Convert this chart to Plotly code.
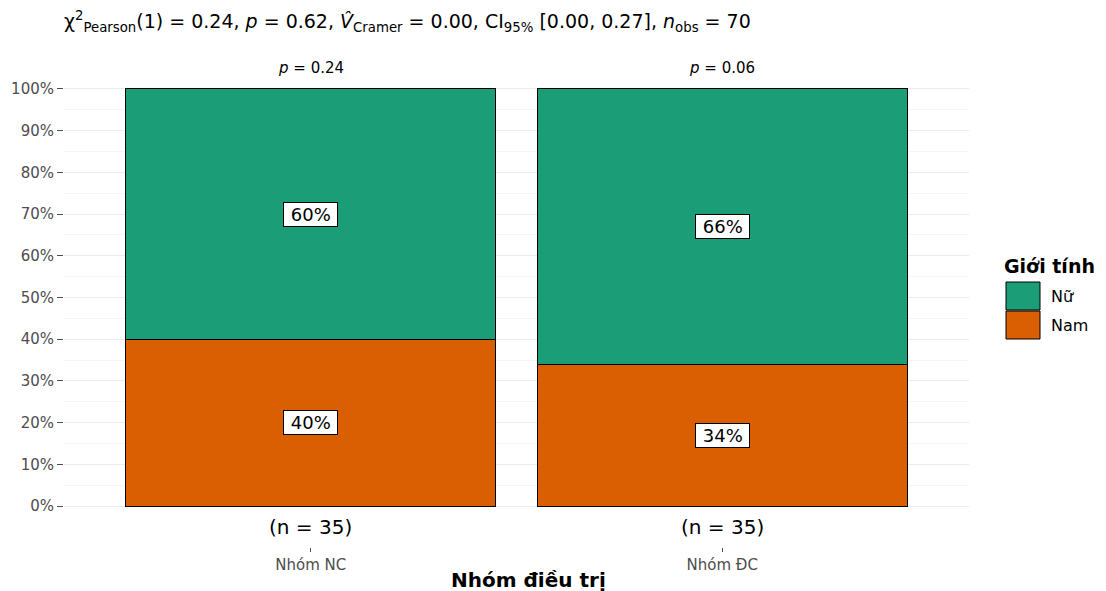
import plotly.graph_objects as go

# Data
groups = ["Nhóm NC", "Nhóm ĐC"]
sexes = ["Nam", "Nữ"]
pct_nam = [40, 34]
pct_nu = [60, 66]
n_group = [35, 35]
p_group = ["0.24", "0.06"]
colors = {"Nữ": "#1B9E77", "Nam": "#D95F02"}
ytick_vals = [0, 10, 20, 30, 40, 50, 60, 70, 80, 90, 100]
ytick_text = [f"{v}%" for v in ytick_vals]

FONT = "DejaVu Sans, Verdana, sans-serif"
W, H = 1106, 591
ML, MR, MT, MB = 64, 137, 48, 44
PW, PH = W - ML - MR, H - MT - MB


def px(x):
    return (x - ML) / PW


def py(y):
    return (H - MB - y) / PH


fig = go.Figure()
for sex, vals in (("Nam", pct_nam), ("Nữ", pct_nu)):
    fig.add_trace(go.Bar(
        x=groups, y=[v / 100 for v in vals], name=sex,
        marker=dict(color=colors[sex], line=dict(color="black", width=1)),
        showlegend=False, hoverinfo="skip",
    ))

annotations = []
# percentage labels centred in each segment
for i, g in enumerate(groups):
    for base, v in ((0, pct_nam[i]), (pct_nam[i], pct_nu[i])):
        annotations.append(dict(
            x=g, y=(base + v / 2) / 100, xref="x", yref="y",
            text=f"&nbsp;{v}%&nbsp;", showarrow=False,
            font=dict(family=FONT, size=18, color="black"),
            bgcolor="white", bordercolor="black", borderwidth=1, borderpad=1,
        ))
    annotations.append(dict(
        x=g, y=-0.05, xref="x", yref="y", text=f"(n = {n_group[i]})",
        showarrow=False, font=dict(family=FONT, size=20, color="black"),
    ))
    annotations.append(dict(
        x=g, y=1.05, xref="x", yref="y", text=f"<i>p</i> = {p_group[i]}",
        showarrow=False, font=dict(family=FONT, size=15, color="black"),
    ))

# subtitle with test statistics
annotations.append(dict(
    x=px(62), y=py(22), xref="paper", yref="paper", xanchor="left", yanchor="middle",
    text=("χ<sup>2</sup><sub>Pearson</sub>(1) = 0.24, <i>p</i> = 0.62, "
          "<i>V̂</i><sub>Cramer</sub> = 0.00, CI<sub>95%</sub> [0.00, 0.27], "
          "<i>n</i><sub>obs</sub> = 70"),
    showarrow=False, font=dict(family=FONT, size=19, color="black"),
))

# x axis title
annotations.append(dict(
    x=px(528), y=py(580), xref="paper", yref="paper", yanchor="middle",
    text="<b>Nhóm điều trị</b>",
    showarrow=False, font=dict(family=FONT, size=20, color="black"),
))

# legend
annotations.append(dict(
    x=px(1002), y=py(266), xref="paper", yref="paper", xanchor="left", yanchor="middle",
    text="<b>Giới tính</b>", showarrow=False,
    font=dict(family=FONT, size=19, color="black"),
))
shapes = []
for sex, (top, bot) in (("Nữ", (282, 310)), ("Nam", (311, 339))):
    shapes.append(dict(
        type="rect", xref="paper", yref="paper",
        x0=px(1006), x1=px(1040), y0=py(bot), y1=py(top),
        fillcolor=colors[sex], line=dict(color="black", width=1),
    ))
    annotations.append(dict(
        x=px(1049), y=py((top + bot) / 2), xref="paper", yref="paper",
        xanchor="left", yanchor="middle", text=sex, showarrow=False,
        font=dict(family=FONT, size=16, color="black"),
    ))

fig.update_layout(
    width=W, height=H,
    margin=dict(l=ML, r=MR, t=MT, b=MB),
    barmode="stack", bargap=0.1,
    paper_bgcolor="white", plot_bgcolor="white",
    annotations=annotations, shapes=shapes,
    font=dict(family=FONT),
)
fig.update_xaxes(
    range=[-0.6, 1.6], showgrid=False, zeroline=False, showline=False,
    ticks="outside", ticklen=4, tickcolor="#4D4D4D", tickwidth=1,
    tickfont=dict(family=FONT, size=15, color="#4D4D4D"),
)
fig.update_yaxes(
    range=[-0.098, 1.098], tickvals=[v / 100 for v in ytick_vals], ticktext=ytick_text,
    showgrid=True, gridcolor="#EBEBEB", gridwidth=1, zeroline=False, showline=False,
    ticks="outside", ticklen=6, tickcolor="#4D4D4D", tickwidth=1,
    tickfont=dict(family=FONT, size=15, color="#4D4D4D"),
    minor=dict(tickvals=[v / 100 + 0.05 for v in ytick_vals[:-1]], showgrid=True,
               gridcolor="#F5F5F5", gridwidth=1, ticks=""),
)

fig.write_html("out.html")
